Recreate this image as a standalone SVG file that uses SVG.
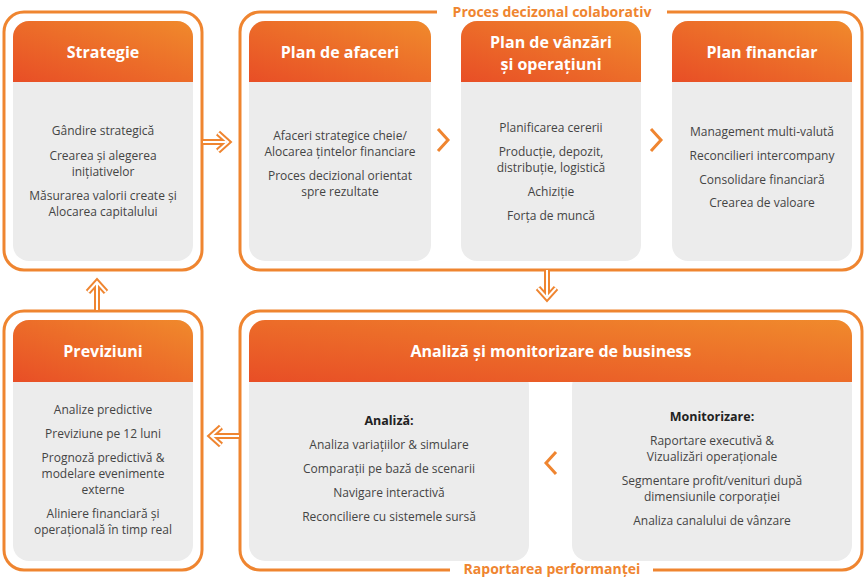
<svg xmlns="http://www.w3.org/2000/svg" width="867" height="579" viewBox="0 0 867 579">
<defs>
<linearGradient id="hg" x1="0" y1="1" x2="1" y2="0">
<stop offset="0" stop-color="#e84e26"/><stop offset="1" stop-color="#f08a2c"/>
</linearGradient>
<style>
.fr{fill:#fff;stroke:#ef8530;stroke-width:3}
.bd{fill:#ececec}
.hd{fill:url(#hg)}
.ht{font-family:"Open Sans",sans-serif;font-weight:bold;font-size:16px;fill:#fff;text-anchor:middle}
.t{font-family:"Open Sans",sans-serif;font-size:12px;fill:#444;text-anchor:middle}
.tb{font-family:"Open Sans",sans-serif;font-size:12.5px;font-weight:bold;fill:#222;text-anchor:middle}
.lb{font-family:"Open Sans",sans-serif;font-size:14px;font-weight:bold;fill:#ef8530;text-anchor:middle}
.ao{fill:none;stroke:#ef8530;stroke-width:6;stroke-linejoin:miter;stroke-linecap:butt}
.ai{fill:none;stroke:#fff;stroke-width:2;stroke-linejoin:miter}
</style>
</defs>
<g id="frames">
<rect class="fr" x="4" y="12" width="198" height="258" rx="20"/>
<path class="fr" d="M437,12 H260 a20,20 0 0 0 -20,20 V250 a20,20 0 0 0 20,20 H842 a20,20 0 0 0 20,-20 V32 a20,20 0 0 0 -20,-20 H667"/>
<rect class="fr" x="4" y="311" width="198" height="259" rx="20"/>
<path class="fr" d="M450,570 H260 a20,20 0 0 1 -20,-20 V331 a20,20 0 0 1 20,-20 H842 a20,20 0 0 1 20,20 V550 a20,20 0 0 1 -20,20 H653"/>
<text class="lb" x="552" y="17">Proces decizonal colaborativ</text>
<text class="lb" x="552" y="574">Raportarea performanței</text>
</g>
<g id="strategie">
<rect class="bd" x="13" y="21" width="180" height="240" rx="16"/>
<path class="hd" d="M13,82 V37 a16,16 0 0 1 16,-16 H177 a16,16 0 0 1 16,16 V82 Z"/>
<text class="ht" x="103" y="58">Strategie</text>
<text class="t" x="103" y="135">Gândire strategică</text>
<text class="t" x="103" y="160">Crearea și alegerea</text>
<text class="t" x="103" y="176">inițiativelor</text>
<text class="t" x="103" y="200">Măsurarea valorii create și</text>
<text class="t" x="103" y="216" fill="#222">Alocarea capitalului</text>
</g>
<g id="afaceri">
<rect class="bd" x="249" y="21" width="182" height="240" rx="16"/>
<path class="hd" d="M249,82 V37 a16,16 0 0 1 16,-16 H415 a16,16 0 0 1 16,16 V82 Z"/>
<text class="ht" x="340" y="58">Plan de afaceri</text>
<text class="t" x="340" y="140">Afaceri strategice cheie/</text>
<text class="t" x="340" y="156">Alocarea țintelor financiare</text>
<text class="t" x="340" y="180">Proces decizional orientat</text>
<text class="t" x="340" y="196">spre rezultate</text>
</g>
<g id="vanzari">
<rect class="bd" x="461" y="21" width="180" height="240" rx="16"/>
<path class="hd" d="M461,82 V37 a16,16 0 0 1 16,-16 H625 a16,16 0 0 1 16,16 V82 Z"/>
<text class="ht" x="551" y="48">Plan de vânzări</text>
<text class="ht" x="551" y="70">și operațiuni</text>
<text class="t" x="551" y="132">Planificarea cererii</text>
<text class="t" x="551" y="156">Producție, depozit,</text>
<text class="t" x="551" y="172">distribuție, logistică</text>
<text class="t" x="551" y="196">Achiziție</text>
<text class="t" x="551" y="220">Forța de muncă</text>
</g>
<g id="financiar">
<rect class="bd" x="672" y="21" width="180" height="240" rx="16"/>
<path class="hd" d="M672,82 V37 a16,16 0 0 1 16,-16 H836 a16,16 0 0 1 16,16 V82 Z"/>
<text class="ht" x="762" y="58">Plan financiar</text>
<text class="t" x="762" y="136">Management multi-valută</text>
<text class="t" x="762" y="160">Reconcilieri intercompany</text>
<text class="t" x="762" y="184">Consolidare financiară</text>
<text class="t" x="762" y="207" fill="#222">Crearea de valoare</text>
</g>
<g id="previziuni">
<rect class="bd" x="13" y="320" width="180" height="241" rx="16"/>
<path class="hd" d="M13,382 V336 a16,16 0 0 1 16,-16 H177 a16,16 0 0 1 16,16 V382 Z"/>
<text class="ht" x="103" y="357">Previziuni</text>
<text class="t" x="103" y="414">Analize predictive</text>
<text class="t" x="103" y="438" fill="#222">Previziune pe 12 luni</text>
<text class="t" x="103" y="462">Prognoză predictivă &amp;</text>
<text class="t" x="103" y="478">modelare evenimente</text>
<text class="t" x="103" y="494">externe</text>
<text class="t" x="103" y="518">Aliniere financiară și</text>
<text class="t" x="103" y="534">operațională în timp real</text>
</g>
<g id="analiza">
<rect class="bd" x="249" y="370" width="280" height="191" rx="16"/>
<rect class="bd" x="572" y="370" width="280" height="191" rx="16"/>
<path class="hd" d="M249,382 V336 a16,16 0 0 1 16,-16 H836 a16,16 0 0 1 16,16 V382 Z"/>
<text class="ht" x="551" y="357">Analiză și monitorizare de business</text>
<text class="tb" x="389" y="425">Analiză:</text>
<text class="t" x="389" y="449">Analiza variațiilor &amp; simulare</text>
<text class="t" x="389" y="473">Comparații pe bază de scenarii</text>
<text class="t" x="389" y="497">Navigare interactivă</text>
<text class="t" x="389" y="521">Reconciliere cu sistemele sursă</text>
<text class="tb" x="712" y="421">Monitorizare:</text>
<text class="t" x="712" y="445">Raportare executivă &amp;</text>
<text class="t" x="712" y="461">Vizualizări operaționale</text>
<text class="t" x="712" y="485">Segmentare profit/venituri după</text>
<text class="t" x="712" y="501">dimensiunile corporației</text>
<text class="t" x="712" y="525">Analiza canalului de vânzare</text>
</g>
<g id="connectors">
<path class="ao" d="M203,142 H226 M218,133 L228,142 L218,151"/>
<path class="ai" d="M203,142 H226 M218,133 L228,142 L218,151"/>
<path class="ao" d="M547,270 V296 M538,288 L547,298 L556,288"/>
<path class="ai" d="M547,270 V296 M538,288 L547,298 L556,288"/>
<path class="ao" d="M97,310 V283 M88,292 L97,282 L106,292"/>
<path class="ai" d="M97,310 V283 M88,292 L97,282 L106,292"/>
<path class="ao" d="M239,436 H212 M221,427 L211,436 L221,445"/>
<path class="ai" d="M239,436 H212 M221,427 L211,436 L221,445"/>
<path fill="none" stroke="#ef8530" stroke-width="3" d="M438,129 L448,140 L438,151"/>
<path fill="none" stroke="#ef8530" stroke-width="3" d="M651,129 L661,140 L651,151"/>
<path fill="none" stroke="#ef8530" stroke-width="3" d="M556,452 L546,463 L556,474"/>
</g>
</svg>
